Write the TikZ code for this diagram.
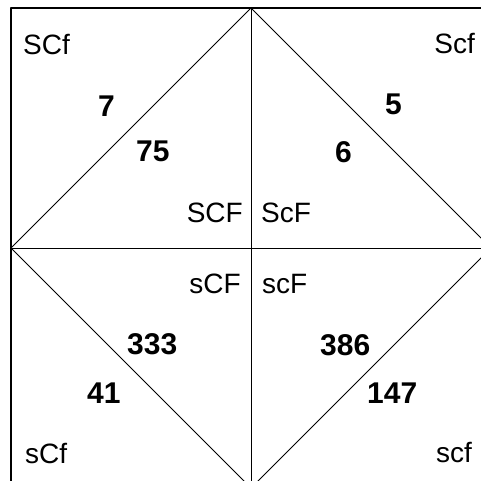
\documentclass[tikz,border=0pt]{standalone}
\usepackage{fontspec}
\setmainfont{Liberation Sans}
\usetikzlibrary{calc}

\begin{document}
\begin{tikzpicture}[x=1pt,y=-1pt,line join=round,line cap=round,
    lbl/.style={inner sep=0pt,font=\fontsize{28}{33}\selectfont},
    num/.style={inner sep=0pt,font=\fontsize{30}{36}\selectfont\bfseries}]
  \useasboundingbox (0,0) rectangle (481,481);
  \clip (0,0) rectangle (481,481);
  \coordinate (T) at (251,8);
  \coordinate (L) at (11,248);
  \coordinate (R) at (491,248);
  \coordinate (B) at (251,488);
  \coordinate (O) at ($(L)!0.5!(R)$);

  \draw[line width=1.3pt] (L|-T) rectangle (R|-B);
  \draw[line width=0.9pt] (T)--(L)--(B)--(R)--cycle;
  \draw[line width=0.9pt] (T)--(B);
  \draw[line width=0.9pt] (L)--(R);

  \node[lbl,anchor=base west] (SCf) at (23,55){SCf};
  \node[lbl,anchor=base east] (Scf) at (475,54){Scf};
  \node[lbl,anchor=base west] (sCf) at (25,463){sCf};
  \node[lbl,anchor=base east] (scf) at (472,462){scf};
  \node[lbl,anchor=base east] (SCF) at (243,222){SCF};
  \node[lbl,anchor=base west] (ScF) at (261,222){ScF};
  \node[lbl,anchor=base east] (sCF) at (241,293){sCF};
  \node[lbl,anchor=base west] (scF) at (262,293){scF};

  \node[num,anchor=base west] (n7) at (98,117){7};
  \node[num,anchor=base west] (n75) at (136,161){75};
  \node[num,anchor=base west] (n5) at (385,115){5};
  \node[num,anchor=base west] (n6) at (335,163){6};
  \node[num,anchor=base west] (n333) at (127,354){333};
  \node[num,anchor=base west] (n41) at (87,403){41};
  \node[num,anchor=base west] (n386) at (320,355){386};
  \node[num,anchor=base west] (n147) at (367,403){147};
\end{tikzpicture}
\end{document}
